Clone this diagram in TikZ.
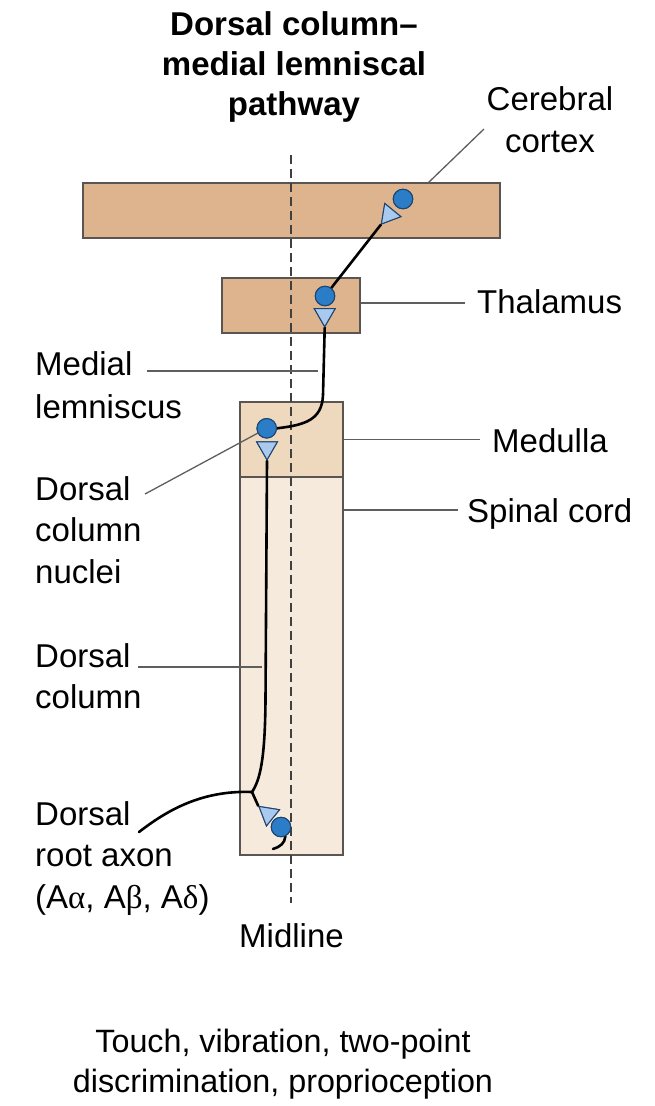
\documentclass[tikz,border=0pt]{standalone}
\usepackage{fontspec}
\setmainfont{Liberation Sans}
\newfontfamily\grk{Liberation Serif}
\usetikzlibrary{shapes.geometric}
\definecolor{ctxfill}{HTML}{DDB48E}
\definecolor{medfill}{HTML}{EFD9BE}
\definecolor{spfill}{HTML}{F5EADB}
\definecolor{edgegray}{HTML}{5A5550}
\definecolor{cellblue}{HTML}{2A7DC6}
\definecolor{celledge}{HTML}{1D4570}
\definecolor{termblue}{HTML}{A9C9EE}
\definecolor{leadgray}{HTML}{5E5E5E}
\definecolor{midgray}{HTML}{404040}
\begin{document}
\begin{tikzpicture}[x=1pt,y=-1pt,
  region/.style={draw=edgegray,line width=1.4pt,inner sep=0},
  soma/.style={circle,fill=cellblue,draw=celledge,line width=1pt,minimum size=19.5pt,inner sep=0},
  term/.style={regular polygon,regular polygon sides=3,fill=termblue,draw=celledge,line width=1pt,minimum size=24pt,inner sep=0},
  axon/.style={line width=2.6pt,black,line cap=round},
  leader/.style={draw=leadgray,line width=1.3pt},
  lbl/.style={inner sep=0,font=\fontsize{33}{41.5}\selectfont,align=left},
  midline/.style={midgray,line width=2.2pt,dash pattern=on 9pt off 5pt}]
\useasboundingbox (0,0) rectangle (654,1106);

% regions
\node[region,fill=ctxfill,minimum width=417pt,minimum height=55pt] (cortex) at (291.5,210.5) {};
\node[region,fill=ctxfill,minimum width=138pt,minimum height=55pt] (thal) at (291,305.5) {};
\node[region,fill=spfill,minimum width=103pt,minimum height=378pt] (spinal) at (291.5,666) {};
\node[region,fill=medfill,minimum width=103pt,minimum height=75pt] (medulla) at (291.5,439.5) {};

% midline
\coordinate (mtop) at (291,155);
\coordinate (mbot) at (291,903);
\draw[midline] (mtop) -- (mbot);

% cells
\node[soma] (cc) at (403,199) {};
\node[term,shape border rotate=140.7] (ct) at (389,214.7) {};
\node[soma] (tc) at (325,296) {};
\node[term,shape border rotate=180] (tt) at (324.7,314.7) {};
\node[soma] (mc) at (266.7,428.3) {};
\node[term,shape border rotate=180] (mt) at (267,447.8) {};
\node[soma] (sc) at (281,827) {};
\node[term,shape border rotate=51] (st) at (268.3,814) {};

\coordinate (branch) at (252,792);
\coordinate (drend) at (139,832);
\coordinate (tailend) at (273,849);

% axons
\draw[axon] (tc) -- (ct.corner 1);
\draw[axon] (tt.corner 1) -- (323,395) .. controls (322,420) and (305,425) .. (mc.east);
\draw[axon] (mt.corner 1) -- (265.5,700) .. controls (265,760) and (260,780) .. (branch);
\draw[axon] (branch) -- (st.corner 1);
\draw[axon] (branch) .. controls (200,790) and (165,812) .. (drend);
\draw[axon] (sc.-65) .. controls (285,843) and (280,847) .. (tailend);

% redraw cells on top
\node[soma] at (cc) {};
\node[term,shape border rotate=140.7] at (ct) {};
\node[soma] at (tc) {};
\node[term,shape border rotate=180] at (tt) {};
\node[soma] at (mc) {};
\node[term,shape border rotate=180] at (mt) {};
\node[soma] at (sc) {};
\node[term,shape border rotate=51] at (st) {};

% labels
\node[lbl,align=center,anchor=north,font=\fontsize{33}{40}\selectfont\bfseries] (title) at (294,11) {Dorsal column--\\medial lemniscal\\pathway};
\node[lbl,align=center,anchor=north,font=\fontsize{33}{42}\selectfont] (lcortex) at (550,86) {Cerebral\\cortex};
\node[lbl,anchor=base west] (lthal) at (477,313) {Thalamus};
\node[lbl,anchor=north west,font=\fontsize{33}{43}\selectfont] (lml) at (35,351) {Medial\\lemniscus};
\node[lbl,anchor=base west] (lmed) at (492,452) {Medulla};
\node[lbl,anchor=base west] (lsp) at (467,522) {Spinal cord};
\node[lbl,anchor=north west] (ldcn) at (35,476) {Dorsal\\column\\nuclei};
\node[lbl,anchor=north west] (ldc) at (35,643) {Dorsal\\column};
\node[lbl,anchor=north west] (ldr) at (35,801) {Dorsal\\root axon\\(A{\grk α}, A{\grk β}, A{\grk δ})};
\node[lbl,anchor=base] (lmid) at (291.5,947) {Midline};
\node[lbl,align=center,anchor=north,font=\fontsize{32.3}{40}\selectfont] (lbottom) at (283,1028.5) {Touch, vibration, two-point\\discrimination, proprioception};

% leaders
\draw[leader] (428,183) -- (484,129);
\draw[leader] (thal.east |- 0,303) -- (465,303);
\draw[leader] (147,371) -- (318,371);
\draw[leader] (medulla.east) -- (480,439.5);
\draw[leader] (spinal.east |- 0,510) -- (458,510);
\draw[leader] (145,494) -- (mc);
\draw[leader] (138,667) -- (262,667);
\end{tikzpicture}
\end{document}
